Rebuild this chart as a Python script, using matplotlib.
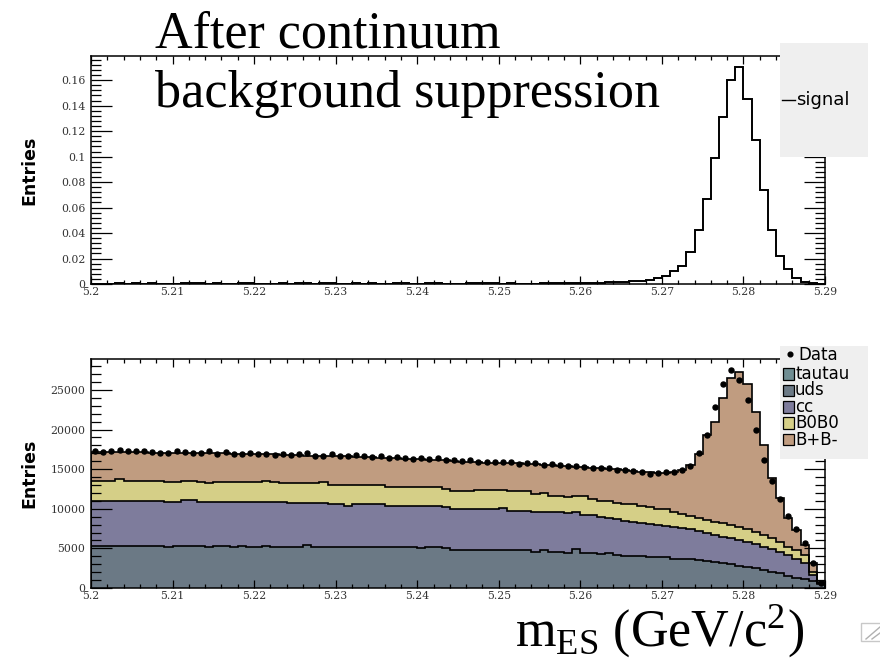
import numpy as np
import matplotlib
matplotlib.use('Agg')
import matplotlib.pyplot as plt
from matplotlib.patches import Rectangle
from matplotlib.lines import Line2D
from matplotlib.ticker import MultipleLocator, FuncFormatter

plt.rcParams['font.family'] = ['DejaVu Serif']
plt.rcParams['mathtext.fontset'] = 'stix'

# 90 bins of 1 MeV between 5.20 and 5.29 GeV
x_lo, x_hi, n_bins = 5.20, 5.29, 90

# top panel: normalised signal shape
signal = [0, 0, 0, 0.0008, 0, 0.0007, 0, 0.0008, 0, 0,
          0, 0.0008, 0.0006, 0.0008, 0, 0.0008, 0, 0, 0.0007, 0.0008,
          0, 0, 0, 0.0008, 0, 0.0007, 0.0006, 0, 0.0008, 0.0008,
          0, 0, 0.0008, 0, 0.0008, 0, 0, 0.0008, 0.0008, 0,
          0, 0.0008, 0.0007, 0, 0, 0, 0.0008, 0.0008, 0.0006, 0.0008,
          0, 0.0008, 0.0003, 0.0003, 0.0003, 0.0006, 0.0006, 0.0006, 0.0004, 0.0008,
          0.0008, 0.0009, 0.0006, 0.0012, 0.0012, 0.0013, 0.0021, 0.0026, 0.0034, 0.0047,
          0.0065, 0.0099, 0.0139, 0.0248, 0.0421, 0.0667, 0.0988, 0.1315, 0.1603, 0.1707,
          0.1451, 0.1132, 0.0740, 0.0426, 0.0222, 0.0118, 0.0047, 0.0018, 0.0005, 0]

# bottom panel: stacked MC, given as the top edge of each stacked layer
uds_top = [5300, 5300, 5300, 5300, 5300, 5300, 5300, 5300, 5300, 5180,
           5300, 5300, 5300, 5300, 5180, 5300, 5300, 5180, 5300, 5180,
           5180, 5330, 5220, 5220, 5220, 5220, 5430, 5220, 5220, 5220,
           5220, 5220, 5220, 5220, 5220, 5220, 5220, 5220, 5220, 5220,
           5010, 5220, 5220, 5010, 4800, 4800, 4800, 4800, 4800, 4800,
           4800, 4800, 4800, 4800, 4590, 4800, 4590, 4590, 4460, 4880,
           4460, 4460, 4250, 4380, 4170, 4080, 4080, 4080, 3960, 3960,
           3870, 3700, 3660, 3600, 3530, 3410, 3320, 3110, 2990, 2820,
           2650, 2480, 2270, 2060, 1850, 1560, 1300, 1140, 900, 460]
cc_top = [11030, 11030, 11030, 11030, 11030, 11030, 11030, 11030, 11030, 10900,
          10900, 11070, 11070, 10900, 10900, 10900, 10900, 10900, 10900, 10900,
          10900, 10900, 10900, 10900, 10690, 10770, 10770, 10770, 10770, 10610,
          10610, 10400, 10610, 10610, 10610, 10610, 10400, 10400, 10400, 10400,
          10400, 10400, 10400, 10190, 10020, 10020, 10020, 10020, 10020, 10020,
          10140, 9760, 9760, 9760, 9640, 9640, 9640, 9640, 9430, 9600,
          9260, 9260, 9010, 8800, 8670, 8500, 8330, 8170, 8080, 7910,
          7830, 7660, 7520, 7450, 7200, 6990, 6690, 6480, 6270, 6020,
          5770, 5510, 5220, 4920, 4500, 4170, 3660, 3200, 1650, 600]
b0b0_top = [13550, 13550, 13550, 13720, 13550, 13550, 13550, 13550, 13550, 13380,
            13380, 13550, 13550, 13380, 13220, 13380, 13380, 13380, 13380, 13380,
            13380, 13550, 13380, 13220, 13220, 13220, 13220, 13220, 13430, 13000,
            13000, 13000, 13000, 13000, 13000, 13000, 12800, 12800, 12800, 12800,
            12800, 12800, 12800, 12460, 12290, 12290, 12290, 12370, 12370, 12370,
            12370, 12290, 12290, 12290, 11870, 12040, 11620, 11620, 11450, 11620,
            11620, 11280, 11030, 11030, 10780, 10610, 10610, 10350, 10190, 9930,
            9930, 9640, 9320, 9090, 8880, 8590, 8380, 8170, 7960, 7740,
            7450, 7110, 6690, 6360, 5850, 5220, 4800, 4170, 2060, 650]
bpbm_top = [17210, 17210, 17210, 17210, 17200, 17180, 17150, 17100, 17100, 17080,
            17050, 17050, 17000, 17000, 17000, 17000, 16980, 16950, 16950, 16920,
            16900, 16880, 16850, 16800, 16780, 16750, 16720, 16700, 16680, 16670,
            16650, 16600, 16580, 16550, 16500, 16450, 16400, 16370, 16320, 16280,
            16250, 16200, 16150, 16100, 16000, 15950, 15900, 15850, 15830, 15820,
            15800, 15780, 15720, 15650, 15600, 15530, 15480, 15420, 15360, 15300,
            15250, 15180, 15100, 15030, 14960, 14900, 14800, 14700, 14600, 14500,
            14550, 14700, 14900, 15530, 16880, 19320, 21000, 24030, 26560, 27230,
            25720, 22260, 18060, 13850, 11320, 8800, 7320, 5430, 3110, 800]
data = [17300, 17150, 17250, 17400, 17250, 17350, 17300, 17200, 17100, 17000,
        17250, 17150, 17100, 17000, 17250, 16900, 17200, 16850, 16950, 17050,
        16950, 16900, 16800, 16850, 16750, 16850, 17000, 16600, 16700, 16850,
        16650, 16700, 16750, 16600, 16550, 16700, 16450, 16500, 16400, 16300,
        16450, 16250, 16350, 16200, 16100, 16000, 16100, 15900, 15850, 15950,
        15900, 15850, 15700, 15800, 15750, 15500, 15600, 15500, 15350, 15450,
        15300, 15200, 15150, 15100, 14900, 14950, 14800, 14700, 14400, 14500,
        14600, 14700, 14900, 15400, 17000, 19300, 22800, 25700, 27500, 26300,
        23700, 19900, 16150, 13500, 11250, 9100, 7450, 5650, 3100, 600]

legend_names = ['tautau', 'uds', 'cc', 'B0B0', 'B+B-']
legend_colors = ['#6f8d92', '#6b7985', '#7e7c9c', '#d5cf87', '#c09c80']

edges = np.linspace(x_lo, x_hi, n_bins + 1)
centers = 0.5 * (edges[:-1] + edges[1:])

W, H = 880, 660
fig = plt.figure(figsize=(W / 100, H / 100), dpi=100)


def px_axes(left, top, right, bottom):
    return fig.add_axes([left / W, 1 - bottom / H, (right - left) / W, (bottom - top) / H])


def style(ax, ymax, ymajor, yminor):
    ax.set_xlim(x_lo, x_hi)
    ax.set_ylim(0, ymax)
    ax.xaxis.set_major_locator(MultipleLocator(0.01))
    ax.xaxis.set_minor_locator(MultipleLocator(0.002))
    ax.yaxis.set_major_locator(MultipleLocator(ymajor))
    ax.yaxis.set_minor_locator(MultipleLocator(yminor))
    fmt = FuncFormatter(lambda v, p: '%g' % round(v, 6))
    ax.xaxis.set_major_formatter(fmt)
    ax.yaxis.set_major_formatter(fmt)
    ax.tick_params(which='both', direction='in', top=True, right=True, width=0.9,
                   labelsize=7.8, labelcolor='#333333')
    ax.tick_params(axis='x', which='major', length=5.5, pad=2.5)
    ax.tick_params(axis='x', which='minor', length=2.8)
    ax.tick_params(axis='y', which='major', length=15, pad=4)
    ax.tick_params(axis='y', which='minor', length=7)
    for sp in ax.spines.values():
        sp.set_linewidth(1.1)


# top panel
ax1 = px_axes(91, 56, 825, 284)
ax1.stairs(signal, edges, baseline=0, color='black', lw=1.4)
style(ax1, 0.179, 0.02, 0.004)

# bottom panel
ax2 = px_axes(91, 359, 825, 588)
levels = [np.zeros(n_bins), np.array(uds_top), np.array(cc_top),
          np.array(b0b0_top), np.array(bpbm_top)]
for i in range(1, len(levels)):
    ax2.stairs(levels[i], edges, baseline=levels[i - 1], fill=True,
               color=legend_colors[i], lw=0)
for lev in levels[1:]:
    ax2.stairs(lev, edges, baseline=0, color='black', lw=1.2)
data = np.array(data)
ax2.errorbar(centers, data, yerr=np.sqrt(data), fmt='o', ms=3.6, color='black',
             elinewidth=1, capsize=0, zorder=5)
style(ax2, 28900, 5000, 1000)

# y labels
for yc in (170, 473):
    fig.text(29 / W, 1 - yc / H, 'Entries', rotation=90, ha='center', va='center',
             family='DejaVu Sans', fontweight='bold', fontsize=12.5)

# legends (drawn over the plots, as in the original)
fig.add_artist(Rectangle((780 / W, 1 - 157 / H), 88 / W, 114 / H, transform=fig.transFigure,
                         facecolor='#efefef', edgecolor='none', zorder=10))
fig.add_artist(Line2D([782 / W, 795 / W], [1 - 100 / H, 1 - 100 / H], transform=fig.transFigure,
                      color='black', lw=1.0, zorder=11))
fig.text(796 / W, 1 - 100 / H, 'signal', ha='left', va='center', family='DejaVu Sans',
         fontsize=13, zorder=11)

fig.add_artist(Rectangle((780 / W, 1 - 459 / H), 88 / W, 113 / H, transform=fig.transFigure,
                         facecolor='#efefef', edgecolor='none', zorder=10))
fig.add_artist(Line2D([790 / W], [1 - 354 / H], transform=fig.transFigure, marker='o', ms=3.4,
                      color='black', zorder=11))
fig.text(798 / W, 1 - 355 / H, 'Data', ha='left', va='center', family='DejaVu Sans',
         fontsize=12, zorder=11)
for k, (name, col) in enumerate(zip(legend_names, legend_colors)):
    yc = 374 + 16.4 * k
    fig.add_artist(Rectangle((782.5 / W, 1 - (yc + 5.8) / H), 11 / W, 11.6 / H,
                             transform=fig.transFigure, facecolor=col, edgecolor='black',
                             lw=0.9, zorder=11))
    fig.text(795 / W, 1 - yc / H, name, ha='left', va='center', family='DejaVu Sans',
             fontsize=12, zorder=11)

# slide annotations
fig.text(155 / W, 1 - 47 / H, 'After continuum', ha='left', va='baseline',
         family='Liberation Serif', fontsize=37.5, zorder=12)
fig.text(155 / W, 1 - 107 / H, 'background suppression', ha='left', va='baseline',
         family='Liberation Serif', fontsize=37.5, zorder=12)
fig.text(515 / W, 1 - 647 / H, r'$\mathregular{m_{ES}}$ (GeV/c$^{\mathregular{2}}$)',
         ha='left', va='baseline', family='Liberation Serif', fontsize=37.5, zorder=12)

# small resize handle in the corner of the slide
fig.add_artist(Rectangle((861 / W, 1 - 641 / H), 22 / W, 18 / H, transform=fig.transFigure,
                         facecolor='white', edgecolor='#c8c8c8', lw=1.0, zorder=12))
for off in (0, 6):
    fig.add_artist(Line2D([(866 + off) / W, 880 / W], [1 - 639 / H, 1 - (627 + off) / H],
                          transform=fig.transFigure, color='#b0b0b0', lw=1.0, zorder=13))

fig.savefig('out.png', dpi=100)
